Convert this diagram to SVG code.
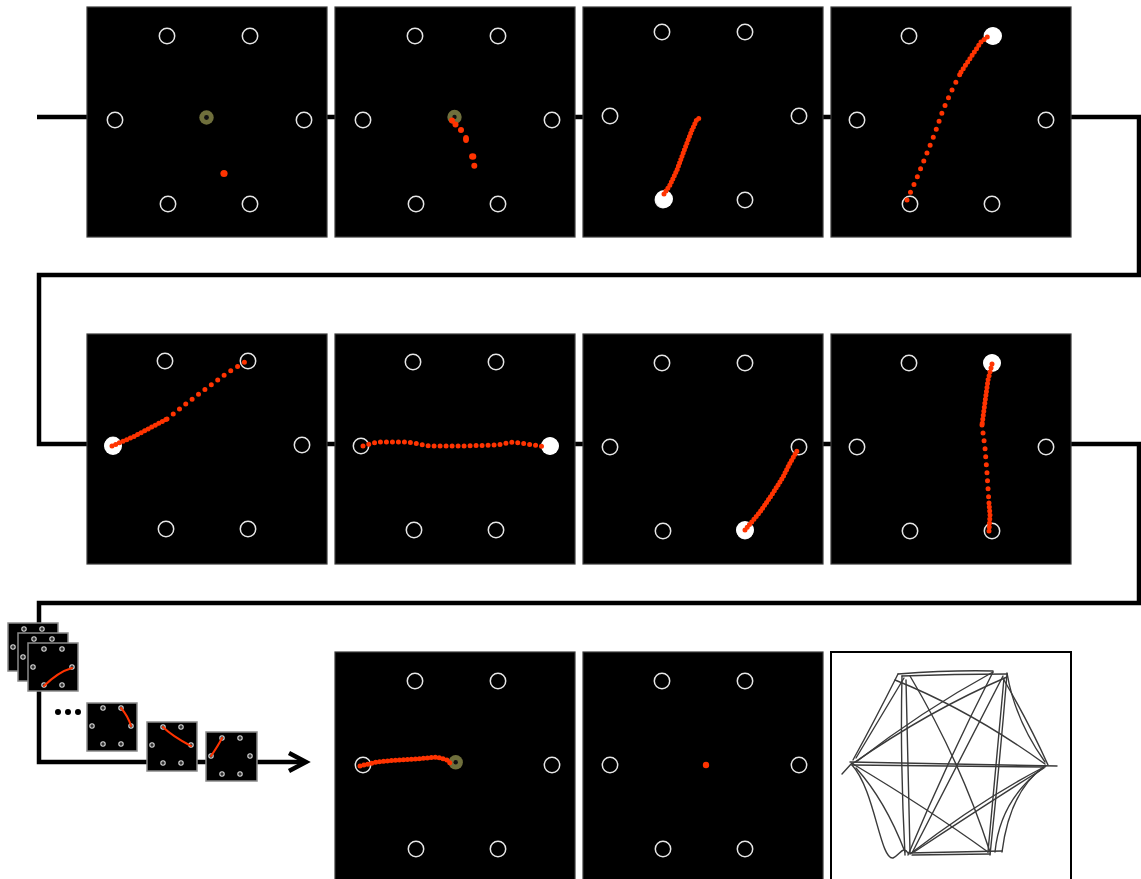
<svg xmlns="http://www.w3.org/2000/svg" xmlns:xlink="http://www.w3.org/1999/xlink" width="1141" height="879" viewBox="0 0 1141 879">
<style>
.conn{fill:none;stroke:#000;stroke-width:4.5;stroke-linejoin:miter}
.panel{fill:#000;stroke:#3a3a3a;stroke-width:1.2}
.ring{fill:none;stroke:#e6e6e6;stroke-width:1.5}
.full{fill:#fff}
.olive{fill:#6f6f3c}
.trj{fill:none;stroke:#ff3300;stroke-width:5;stroke-linecap:round;stroke-linejoin:round}
.dot{fill:#ff3300}
.thumb{fill:#000;stroke:#8a8a8a;stroke-width:1.5}
.tring{fill:#333;stroke:#d8d8d8;stroke-width:1.1}
.ttrj{fill:none;stroke:#ff3300;stroke-width:2;stroke-linecap:round}
.sk{fill:none;stroke:#3a3a3a;stroke-width:1.4;stroke-linecap:round}
</style>
<defs>
<g id="six">
<circle class="ring" cx="79" cy="29" r="7.7"/>
<circle class="ring" cx="162" cy="29" r="7.7"/>
<circle class="ring" cx="27" cy="113" r="7.7"/>
<circle class="ring" cx="216" cy="113" r="7.7"/>
<circle class="ring" cx="80" cy="197" r="7.7"/>
<circle class="ring" cx="162" cy="197" r="7.7"/>
</g>
<g id="tsix">
<circle class="tring" cx="16" cy="6" r="2.2"/>
<circle class="tring" cx="34" cy="6" r="2.2"/>
<circle class="tring" cx="5" cy="24" r="2.2"/>
<circle class="tring" cx="44" cy="24" r="2.2"/>
<circle class="tring" cx="16" cy="42" r="2.2"/>
<circle class="tring" cx="34" cy="42" r="2.2"/>
</g>
</defs>
<rect width="1141" height="879" fill="#fff"/>
<g id="connectors">
<polyline class="conn" points="37,117 1139,117 1139,275 39,275 39,444 1139,444 1139,603 39,603 39,762 304,762"/>
<polyline class="conn" points="289,753 306,762 289,771" stroke-width="5"/>
</g>
<g id="r1p1">
<rect class="panel" x="87" y="7" width="240" height="230"/>
<use xlink:href="#six" x="88" y="7"/>
<circle class="olive" cx="206.5" cy="117.5" r="7.2"/>
<circle fill="#111" cx="206.5" cy="117.5" r="2.4"/>
<circle class="dot" cx="224" cy="173.5" r="3.6"/>
</g>
<g id="r1p2">
<rect class="panel" x="335" y="7" width="240" height="230"/>
<use xlink:href="#six" x="336" y="7"/>
<circle class="olive" cx="454.5" cy="117" r="7.2"/>
<circle fill="#111" cx="454.5" cy="117" r="2.2"/>
<circle class="dot" cx="452" cy="120.5" r="3"/>
<circle class="dot" cx="455.5" cy="124.5" r="3"/>
<circle class="dot" cx="461" cy="130" r="3"/>
<ellipse class="dot" cx="466" cy="139" rx="3" ry="4"/>
<ellipse class="dot" cx="472.7" cy="156.5" rx="3.6" ry="3.3"/>
<circle class="dot" cx="474.3" cy="165.7" r="3"/>
</g>
<g id="r1p3">
<rect class="panel" x="583" y="7" width="240" height="230"/>
<use xlink:href="#six" x="583" y="3"/>
<circle class="full" cx="664" cy="199" r="9"/>
<path class="trj" stroke-width="5.5" stroke-dasharray="0 3.5" d="M664,194 L670,185 L677,170 L685,148 L692,130 L697,119 L700,118"/>
</g>
<g id="r1p4">
<rect class="panel" x="831" y="7" width="240" height="230"/>
<use xlink:href="#six" x="830" y="7"/>
<circle class="full" cx="993" cy="36" r="9"/>
<path class="trj" stroke-dasharray="0 8.5" d="M907,200 L916,180 L925,158 L935,133 L943,110 L951,92 L961,72"/>
<path class="trj" stroke-dasharray="0 4" d="M961,72 L971,57 L981,42 L990,35"/>
</g>
<g id="r2p1">
<rect class="panel" x="87" y="334" width="240" height="230"/>
<use xlink:href="#six" x="86" y="332"/>
<circle class="full" cx="113" cy="446" r="9"/>
<path class="trj" stroke-dasharray="0 4" d="M112,446 L133,437 L150,428 L167,419"/>
<path class="trj" stroke-dasharray="0 8" d="M167,419 L187,403 L207,388 L227,373 L245,362"/>
</g>
<g id="r2p2">
<rect class="panel" x="335" y="334" width="240" height="230"/>
<use xlink:href="#six" x="334" y="333"/>
<circle class="full" cx="550" cy="446" r="9"/>
<path class="trj" stroke="#ff1a0a" stroke-width="4.6" stroke-dasharray="0 6" d="M363,446 L377,442 L407,442 L430,446 L463,446 L497,445 L513,442 L547,447"/>
</g>
<g id="r2p3">
<rect class="panel" x="583" y="334" width="240" height="230"/>
<use xlink:href="#six" x="583" y="334"/>
<circle class="full" cx="745" cy="530" r="9"/>
<path class="trj" stroke-width="5.5" stroke-dasharray="0 3.5" d="M745,530 L760,512 L773,493 L783,477 L790,463 L797,451"/>
</g>
<g id="r2p4">
<rect class="panel" x="831" y="334" width="240" height="230"/>
<use xlink:href="#six" x="830" y="334"/>
<circle class="full" cx="992" cy="363" r="9"/>
<path class="trj" stroke-dasharray="0 4" d="M992,364 L988,380 L985,402 L982,425"/>
<path class="trj" stroke-dasharray="0 8" d="M982,425 L985,448 L987,473 L989,503"/>
<path class="trj" stroke-dasharray="0 4" d="M989,503 L990,515 L989,531"/>
</g>
<g id="r3p1">
<rect class="panel" x="335" y="652" width="240" height="232"/>
<use xlink:href="#six" x="336" y="652"/>
<circle class="olive" cx="455.7" cy="762.3" r="7.2"/>
<circle fill="#111" cx="455.7" cy="762.3" r="2.2"/>
<path class="trj" stroke-dasharray="0 4" d="M360,766 L377,762 L397,760 L417,759 L437,757 L447,760 L452,765"/>
</g>
<g id="r3p2">
<rect class="panel" x="583" y="652" width="240" height="232"/>
<use xlink:href="#six" x="583" y="652"/>
<circle class="dot" cx="706" cy="765" r="3.2"/>
</g>
<g id="r3p3">
<rect x="831" y="652" width="240" height="232" fill="#fff" stroke="#000" stroke-width="2"/>
<path class="sk" d="M898,674 Q950,670 993,671"/>
<path class="sk" d="M902,676 Q955,674 1007,674"/>
<path class="sk" d="M898,674 Q875,720 853,760"/>
<path class="sk" d="M904,678 Q882,715 856,758"/>
<path class="sk" d="M1007,673 Q1015,720 1045,762"/>
<path class="sk" d="M1004,680 Q1030,725 1048,765"/>
<path class="sk" d="M852,765 C875,790 880,860 893,858 C900,855 903,845 908,853"/>
<path class="sk" d="M856,768 Q885,800 905,852"/>
<path class="sk" d="M1045,766 Q1010,790 1002,852"/>
<path class="sk" d="M1043,768 Q1000,800 995,852"/>
<path class="sk" d="M908,853 L1002,851"/>
<path class="sk" d="M912,855 L990,854"/>
<path class="sk" d="M850,762 L1057,766"/>
<path class="sk" d="M852,765 L1045,767" stroke-width="2"/>
<path class="sk" d="M842,774 L852,763"/>
<path class="sk" d="M902,676 Q900,760 905,855"/>
<path class="sk" d="M906,680 L910,852"/>
<path class="sk" d="M1007,674 Q1000,760 990,855"/>
<path class="sk" d="M1004,678 L988,852"/>
<path class="sk" d="M895,680 Q970,710 1045,764"/>
<path class="sk" d="M910,676 Q960,760 990,852"/>
<path class="sk" d="M1007,677 Q930,710 852,764"/>
<path class="sk" d="M993,672 Q920,712 856,762"/>
<path class="sk" d="M1003,676 Q960,760 912,853"/>
<path class="sk" d="M993,672 Q948,760 908,855"/>
<path class="sk" d="M853,764 Q930,810 988,852"/>
<path class="sk" d="M910,854 Q980,800 1046,766"/>
<path class="sk" d="M914,852 Q985,805 1044,768"/>
</g>
<g id="thumbs">
<rect class="thumb" x="8" y="623" width="50" height="48"/>
<use xlink:href="#tsix" x="8" y="623"/>
<rect class="thumb" x="18" y="633" width="50" height="48"/>
<use xlink:href="#tsix" x="18" y="633"/>
<rect class="thumb" x="28" y="643" width="50" height="48"/>
<use xlink:href="#tsix" x="28" y="643"/>
<path class="ttrj" d="M44,686 Q58,672 72,668"/>
<circle fill="#000" cx="58" cy="712" r="3"/>
<circle fill="#000" cx="68" cy="712" r="3"/>
<circle fill="#000" cx="78" cy="712" r="3"/>
<rect class="thumb" x="87" y="703" width="50" height="48"/>
<use xlink:href="#tsix" x="87" y="702"/>
<path class="ttrj" d="M121,708 Q128,716 131,726"/>
<rect class="thumb" x="147" y="722" width="50" height="49"/>
<use xlink:href="#tsix" x="147" y="721"/>
<path class="ttrj" d="M163,727 Q172,736 191,746"/>
<rect class="thumb" x="206" y="732" width="51" height="49"/>
<use xlink:href="#tsix" x="206" y="732"/>
<path class="ttrj" d="M222,738 Q218,746 211,756"/>
</g>
</svg>
